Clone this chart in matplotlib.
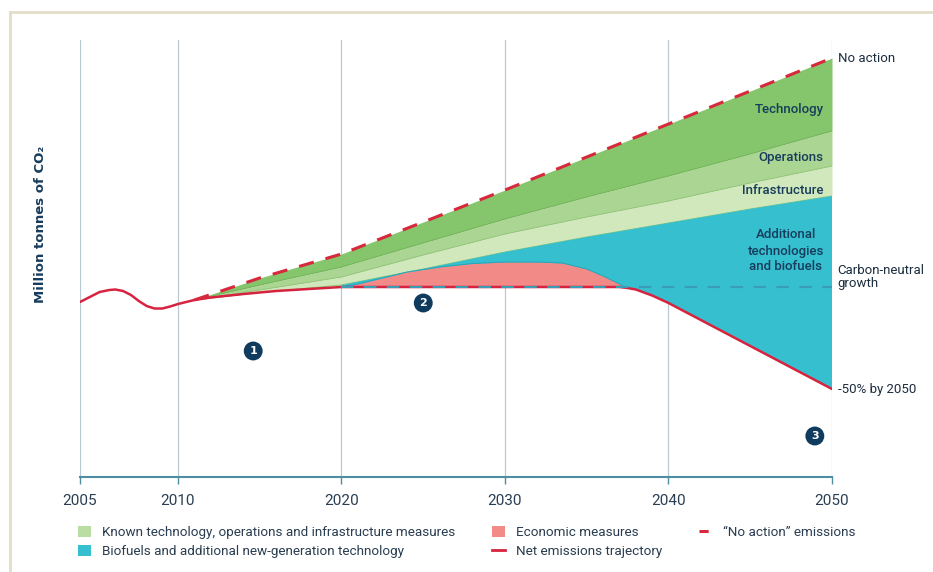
import numpy as np
import matplotlib.pyplot as plt
from matplotlib.patches import Patch
from matplotlib.lines import Line2D

# Years shown on the axis (2005-2010 is stretched relative to later decades)
tick_years = [2005, 2010, 2020, 2030, 2040, 2050]

# Net emissions trajectory
net_years = [2005, 2005.5, 2006, 2006.5, 2006.8, 2007.2, 2007.6, 2008, 2008.4, 2008.8,
             2009.2, 2009.6, 2010, 2011, 2012, 2014, 2016, 2018, 2020, 2025, 2030, 2035,
             2037, 2037.5, 2038, 2038.5, 2039, 2040, 2045, 2050]
net_vals = [175, 180, 185, 187, 187.5, 186, 182, 176, 171, 168.5,
            168.5, 170.5, 173, 177, 179.5, 183, 186, 188, 190, 190, 190, 190,
            190, 189, 187.5, 184.5, 181.5, 174, 131, 88]

# Wedge boundaries from 2011 onwards
band_years = [2011, 2015, 2020, 2025, 2030, 2035, 2040, 2045, 2050]
no_action = [177, 199, 223, 255, 287, 320, 353, 386, 419]
technology_bottom = [177, 192, 210, 234, 258, 280, 301, 323, 346]
operations_bottom = [177, 187, 200, 222, 243, 260, 276, 294, 311]
infrastructure_bottom = [177, 184.5, 192, 208, 225, 240, 254, 268, 281]

# Economic measures (market-based) between 2020 and ~2037
econ_years = [2020, 2021, 2022, 2023, 2024, 2026, 2028, 2030, 2032, 2033.5, 2035, 2036, 2037, 2037.3]
econ_top = [190, 193, 197, 201, 205, 210, 213.5, 215, 215, 214, 208, 201, 193, 190]
carbon_neutral = 190

navy = '#173c5c'
text_col = '#1c2d3d'
font = ['Roboto', 'DejaVu Sans']


def fwd(x):
    x = np.asarray(x, dtype=float)
    return np.where(x < 2010, (x - 2005) * 98 / 5, 98 + (x - 2010) * 654 / 40)


def inv(p):
    p = np.asarray(p, dtype=float)
    return np.where(p < 98, 2005 + p * 5 / 98, 2010 + (p - 98) * 40 / 654)


fig = plt.figure(figsize=(9.33, 5.72), dpi=100)
ax = fig.add_axes([80 / 933, 1 - 477 / 572, 752 / 933, 437 / 572])
ax.set_xscale('function', functions=(fwd, inv))
ax.set_xlim(2005, 2050)
ax.set_ylim(0, 437)

for yr in tick_years:
    ax.axvline(yr, color='#b9c9d4', lw=0.9, zorder=0)

# stacked wedges
ax.fill_between(band_years, technology_bottom, no_action, color='#85c56c', lw=0, zorder=1)
ax.fill_between(band_years, operations_bottom, technology_bottom, color='#abd592', lw=0, zorder=1)
ax.fill_between(band_years, infrastructure_bottom, operations_bottom, color='#d0e8bb', lw=0, zorder=1)
ax.plot(band_years, technology_bottom, color='#74b55a', lw=0.7, zorder=1.5)
ax.plot(band_years, operations_bottom, color='#93c67a', lw=0.7, zorder=1.5)
ax.plot(band_years, infrastructure_bottom, color='#8cc472', lw=0.7, zorder=1.5)

i20 = band_years.index(2020)
n20 = net_years.index(2020)
teal_x = np.r_[band_years[i20:], net_years[n20:][::-1]]
teal_y = np.r_[infrastructure_bottom[i20:], net_vals[n20:][::-1]]
ax.fill(teal_x, teal_y, color='#35bfcf', lw=0, zorder=1.6)

ax.fill_between(econ_years, carbon_neutral, econ_top, color='#f28b88', lw=0, zorder=1.7)
ax.plot(econ_years, econ_top, color='#2aa5b8', lw=0.7, zorder=1.8)

ax.plot(net_years, net_vals, color='#d7233f', lw=1.8, zorder=3, solid_capstyle='round',
        solid_joinstyle='round')
ax.plot([2020, 2050], [carbon_neutral, carbon_neutral], color='#3b9db5', lw=1.5,
        dashes=(6, 5), zorder=4)
ax.plot(band_years, no_action, color='#d7283c', lw=2.2, dashes=(5, 4), zorder=4)

# axes styling
for s in ['top', 'right', 'left']:
    ax.spines[s].set_visible(False)
ax.spines['bottom'].set_color('#4f8da2')
ax.spines['bottom'].set_linewidth(1.5)
ax.set_yticks([])
ax.set_xticks(tick_years)
ax.set_xticklabels([str(y) for y in tick_years], family=font, fontsize=11, color='#2a3e52')
ax.tick_params(axis='x', direction='out', length=5, width=1, color='#4f8da2', pad=7)

ax.set_ylabel('Million tonnes of CO₂', family=['DejaVu Sans'], fontsize=9.5,
              fontweight='bold', color=navy)
ax.yaxis.set_label_coords(-33 / 752, 0.577)

# labels at the right edge
ax.text(2050.35, 419, 'No action', family=font, fontsize=9.5, color=text_col, va='center')
ax.text(2050.35, 200, 'Carbon-neutral\ngrowth', family=font, fontsize=9.5, color=text_col,
        va='center', linespacing=1.1)
ax.text(2050.35, 87, '-50% by 2050', family=font, fontsize=9.5, color=text_col, va='center')

# labels inside the wedges
inner = dict(family=font, fontsize=9.5, fontweight='medium', color=navy, ha='right', va='center')
ax.text(2049.5, 367, 'Technology', **inner)
ax.text(2049.5, 319, 'Operations', **inner)
ax.text(2049.5, 286, 'Infrastructure', **inner)
ax.text(2049.5, 226, 'Additional\ntechnologies\nand biofuels', multialignment='center',
        linespacing=1.3, **inner)

# numbered markers
for num, (xx, yy) in zip(['1', '2', '3'], [(2014.6, 126), (2025, 174), (2048.95, 41)]):
    ax.text(xx, yy, num, ha='center', va='center', fontsize=8, fontweight='bold', color='white',
            bbox=dict(boxstyle='circle,pad=0.4', fc='#0f3b5f', ec='none'))

# legend
handles = [
    Patch(facecolor='#b9dda3', edgecolor='none'),
    Patch(facecolor='#35bfcf', edgecolor='none'),
    Patch(facecolor='#f28b88', edgecolor='none'),
    Line2D([], [], color='#d7233f', lw=2),
    Line2D([], [], color='#d7283c', lw=2.2, dashes=(3, 2)),
]
labels = [
    'Known technology, operations and infrastructure measures',
    'Biofuels and additional new-generation technology',
    'Economic measures',
    'Net emissions trajectory',
    '\u201cNo action\u201d emissions',
]
fig.legend(handles, labels, ncol=3, loc='upper left', bbox_to_anchor=(78 / 933, 1 - 526 / 572),
           frameon=False, borderaxespad=0, borderpad=0, handlelength=1.0, handleheight=0.9,
           handletextpad=0.8, columnspacing=2.7, labelspacing=0.4,
           prop={'family': font, 'size': 9.7}, labelcolor='#2a3d50')

# outer frame lines
fig.add_artist(Line2D([10 / 933, 10 / 933], [0, 1 - 12 / 572], transform=fig.transFigure,
                      color='#e2dec8', lw=2))
fig.add_artist(Line2D([10 / 933, 1], [1 - 12 / 572, 1 - 12 / 572], transform=fig.transFigure,
                      color='#e2dec8', lw=2))

fig.savefig('out.png', dpi=100)
